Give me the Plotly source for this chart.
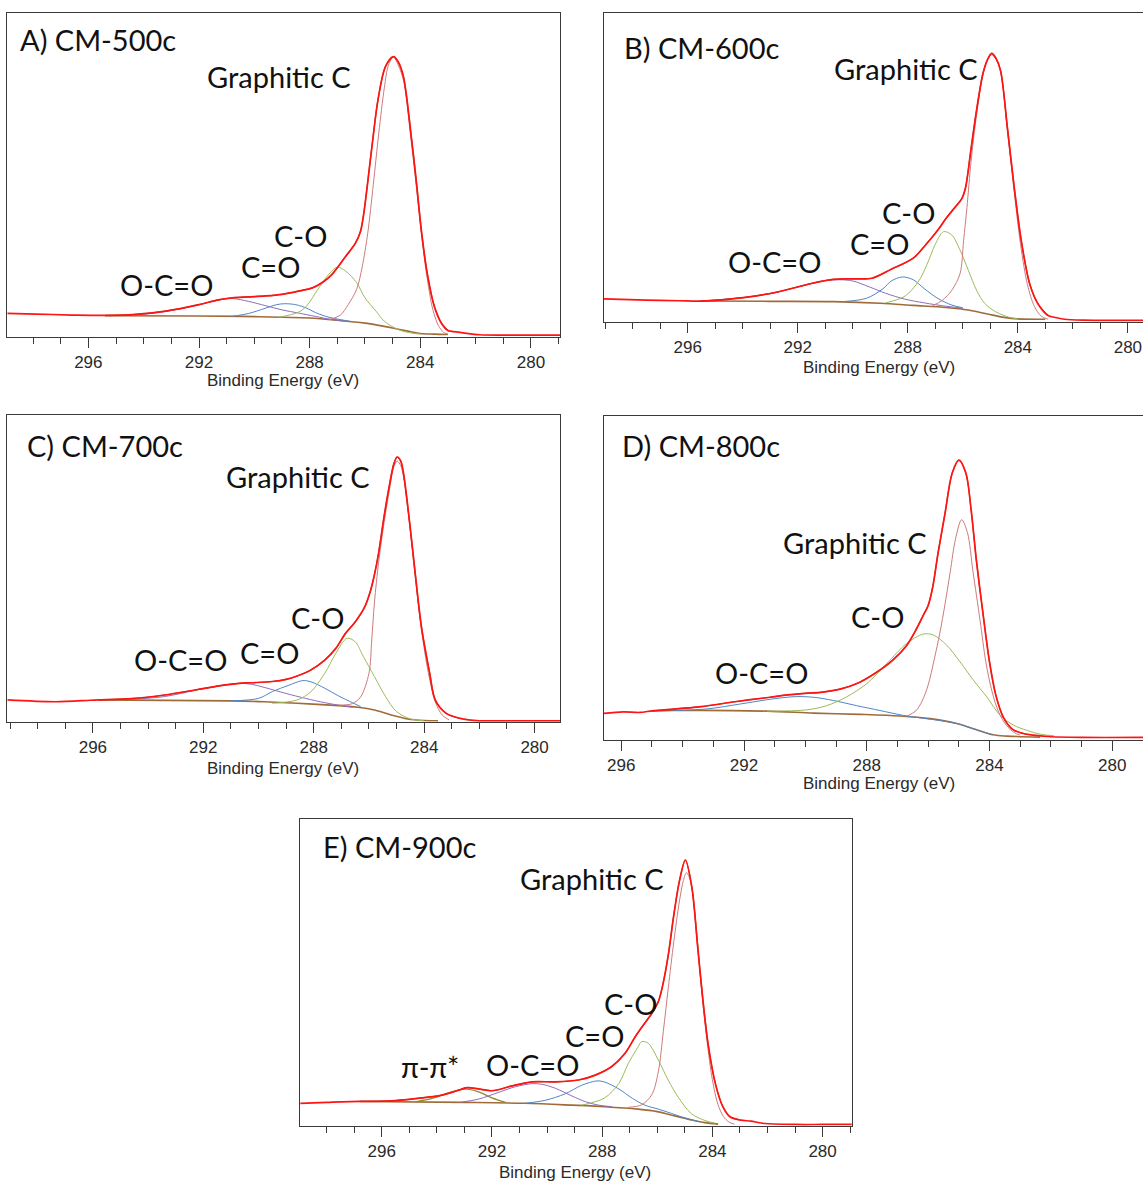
import plotly.graph_objects as go

# ---------------- DATA (binding energy in eV, intensity in % of panel height) ----------------
# Panel A  CM-500c
bgA_x = [295.4, 292.0, 290.5, 289.0, 288.0, 287.0, 286.0, 285.5, 285.0, 284.5, 284.0, 283.5, 283.0]
bgA_y = [6.5, 6.4, 6.3, 6.0, 5.8, 5.1, 4.2, 3.5, 2.7, 1.8, 1.0, 0.8, 0.7]
ocoA_x = [294.4, 293.2, 292.0, 291.3, 290.8, 290.2, 289.6, 289.0, 288.4, 287.8, 287.2, 286.6]
ocoA_y = [6.6, 7.8, 9.9, 11.3, 11.8, 10.9, 9.6, 8.3, 7.3, 6.3, 5.3, 4.7]
coA_x = [290.8, 290.2, 289.6, 289.2, 288.9, 288.5, 288.1, 287.8, 287.3, 286.9, 286.5]
coA_y = [6.3, 7.2, 8.8, 9.9, 10.2, 9.9, 8.8, 7.5, 6.0, 5.3, 4.7]
cOA_x = [289.1, 288.4, 288.1, 287.7, 287.3, 287.0, 286.7, 286.3, 286.0, 285.6, 285.3, 284.8, 284.3, 284.0]
cOA_y = [6.0, 7.6, 9.6, 14.7, 19.4, 21.5, 20.3, 16.7, 12.0, 7.9, 4.8, 2.2, 1.1, 0.8]
grA_x = [287.3, 286.9, 286.6, 286.3, 286.1, 285.9, 285.7, 285.5, 285.3, 285.15, 284.97, 284.8, 284.6,
         284.35, 284.15, 283.95, 283.75, 283.55, 283.35, 283.15, 283.0]
grA_y = [5.3, 6.6, 10.0, 14.7, 21.6, 32.0, 47.0, 63.0, 77.0, 84.0, 86.5, 84.0, 79.0,
         62.0, 47.0, 31.0, 18.0, 8.5, 3.5, 1.3, 0.8]
envA_x = [295.4, 294.4, 293.2, 292.0, 291.3, 290.8, 290.2, 289.6, 289.0, 288.4, 287.9, 287.5, 287.2,
          286.7, 286.34, 286.16, 286.04, 285.92, 285.72, 285.53, 285.26, 284.97, 284.8, 284.61,
          284.34, 284.15, 283.95, 283.75, 283.49, 283.23, 283.0]
envA_y = [6.6, 6.8, 7.9, 9.9, 11.4, 12.0, 12.3, 12.6, 13.1, 14.1, 15.1, 17.0, 19.2,
          24.8, 29.0, 32.6, 38.3, 46.4, 60.8, 73.2, 83.5, 86.6, 85.0, 80.4,
          62.9, 48.5, 32.0, 19.6, 9.3, 4.1, 1.9]
rawA_left_x = [298.93, 297.9, 296.6, 295.9]
rawA_left_y = [7.2, 7.0, 6.7, 6.6]
rawA_right_x = [282.9, 282.4, 281.85, 281.0, 280.0, 278.95]
rawA_right_y = [1.7, 1.1, 0.6, 0.5, 0.5, 0.5]

# Panel B  CM-600c
bgB_x = [295.5, 293.0, 290.7, 289.0, 287.8, 286.6, 285.8, 285.1, 284.5, 284.0, 283.0]
bgB_y = [6.7, 6.6, 6.5, 6.0, 5.3, 4.6, 3.8, 2.5, 1.4, 0.9, 0.8]
ocoB_x = [295.6, 293.9, 292.7, 291.7, 291.0, 290.5, 290.0, 289.4, 288.8, 288.1, 287.4, 286.6, 286.0]
ocoB_y = [6.7, 7.9, 9.7, 11.9, 13.3, 13.6, 13.2, 11.3, 9.2, 7.3, 6.1, 5.0, 4.4]
coB_x = [290.4, 289.5, 288.9, 288.6, 288.2, 287.8, 287.4, 286.9, 286.4, 286.0]
coB_y = [6.5, 7.6, 10.7, 13.2, 14.5, 13.6, 10.7, 7.5, 5.4, 4.5]
cOB_x = [288.8, 288.1, 287.6, 287.3, 287.0, 286.7, 286.4, 286.1, 285.8, 285.5, 285.2, 284.8, 284.3, 284.0]
cOB_y = [6.1, 8.3, 13.2, 18.6, 25.1, 29.2, 28.1, 23.2, 16.7, 10.2, 5.9, 3.2, 1.4, 0.9]
grB_x = [287.1, 286.75, 286.4, 286.1, 285.97, 285.85, 285.7, 285.5, 285.27, 285.1, 284.95, 284.78,
         284.6, 284.38, 284.13, 283.9, 283.65, 283.4, 283.15, 282.9]
grB_y = [5.2, 6.9, 10.2, 15.6, 26.4, 37.0, 52.0, 67.0, 80.0, 85.0, 86.5, 85.0,
         80.0, 62.0, 42.0, 25.0, 12.0, 5.0, 1.8, 0.8]
envB_x = [295.5, 293.9, 292.7, 291.5, 290.7, 290.0, 289.3, 288.6, 287.8, 287.4, 286.9, 286.6, 286.3,
          286.03, 285.9, 285.71, 285.52, 285.27, 285.1, 284.95, 284.8, 284.63, 284.38, 284.13,
          283.87, 283.56, 283.24, 282.9]
envB_y = [6.7, 7.9, 9.7, 12.4, 13.7, 13.9, 14.1, 17.0, 20.6, 24.4, 29.8, 33.6, 36.9,
          40.0, 43.5, 55.4, 67.4, 80.4, 85.0, 87.0, 85.5, 81.5, 63.0, 43.5,
          26.0, 12.0, 5.4, 2.0]
rawB_left_x = [299.05, 297.5, 296.3]
rawB_left_y = [7.4, 7.0, 6.8]
rawB_right_x = [282.6, 282.3, 281.6, 280.5, 279.45]
rawB_right_y = [1.3, 0.8, 0.5, 0.4, 0.4]

# Panel C  CM-700c
bgC_x = [295.8, 291.0, 289.8, 288.6, 287.4, 286.4, 285.8, 285.2, 284.6, 284.0, 283.5]
bgC_y = [7.1, 6.8, 6.5, 6.0, 5.4, 4.7, 3.8, 2.2, 0.9, 0.4, 0.3]
ocoC_x = [294.6, 293.4, 292.2, 291.2, 290.7, 290.25, 289.8, 289.0, 288.3, 287.6, 287.1, 286.6]
ocoC_y = [7.3, 8.2, 10.4, 12.0, 12.5, 12.2, 11.2, 9.2, 7.6, 6.2, 5.4, 4.7]
coC_x = [291.0, 290.0, 289.5, 288.9, 288.4, 288.1, 287.6, 287.1, 286.6, 286.3]
coC_y = [6.8, 7.6, 9.8, 11.9, 13.4, 13.0, 10.9, 8.4, 6.2, 4.9]
cOC_x = [289.5, 288.6, 288.1, 287.6, 287.2, 286.8, 286.5, 286.2, 285.8, 285.4, 285.0, 284.5, 284.0]
cOC_y = [6.0, 7.1, 9.8, 15.8, 22.3, 27.2, 26.1, 21.2, 14.7, 8.2, 3.3, 0.9, 0.3]
grC_x = [287.1, 286.6, 286.3, 286.0, 285.9, 285.8, 285.65, 285.45, 285.25, 285.1, 284.98, 284.85,
         284.75, 284.55, 284.35, 284.1, 283.85, 283.6, 283.35, 283.1]
grC_y = [5.4, 5.9, 8.1, 15.8, 26.6, 39.0, 52.0, 65.0, 76.0, 83.0, 85.0, 83.5,
         80.0, 66.0, 49.5, 30.0, 16.0, 6.5, 2.2, 0.6]
envC_x = [295.8, 294.6, 293.4, 292.2, 291.2, 290.7, 290.25, 289.5, 289.0, 288.6, 288.1, 287.6, 287.2,
          286.85, 286.5, 286.15, 285.95, 285.8, 285.65, 285.45, 285.25, 285.1, 284.98, 284.85,
          284.75, 284.55, 284.35, 284.1, 283.8, 283.6, 283.2, 282.7]
envC_y = [7.1, 7.5, 8.7, 10.5, 12.0, 12.5, 12.7, 13.1, 13.8, 14.9, 16.9, 20.1, 23.9,
          28.8, 32.5, 37.5, 42.5, 48.0, 55.0, 67.0, 77.5, 84.0, 86.3, 85.0,
          81.0, 66.8, 50.5, 31.0, 15.8, 7.1, 2.7, 1.1]
rawC_left_x = [299.1, 297.35, 296.1]
rawC_left_y = [7.1, 6.5, 7.0]
rawC_right_x = [282.0, 281.0, 279.08]
rawC_right_y = [0.3, 0.3, 0.3]

# Panel D  CM-800c
bgD_x = [295.0, 294.3, 291.26, 289.74, 288.22, 286.92, 285.94, 285.07, 284.53, 283.88, 283.44, 282.35]
bgD_y = [8.9, 9.1, 8.9, 8.3, 7.9, 7.4, 6.6, 5.1, 3.5, 1.6, 1.2, 0.9]
ocoD_x = [294.3, 293.2, 292.13, 291.05, 290.3, 289.74, 289.09, 288.33, 287.57, 286.81, 286.16,
          285.61, 285.07, 284.53, 283.9]
ocoD_y = [9.1, 9.6, 11.1, 12.7, 13.4, 13.2, 12.2, 10.6, 9.1, 7.6, 6.7, 6.0, 5.1, 3.5, 1.6]
cOD_x = [291.26, 289.96, 289.31, 288.66, 288.0, 287.35, 286.7, 286.16, 285.83, 285.4, 284.96, 284.53,
         284.09, 283.66, 283.22, 282.79, 282.35, 281.9]
cOD_y = [8.9, 9.3, 10.6, 13.3, 17.4, 23.6, 29.8, 32.7, 32.4, 29.3, 24.1, 18.5,
         13.3, 7.7, 4.6, 3.0, 1.8, 1.3]
grD_x = [286.7, 286.4, 286.2, 286.0, 285.8, 285.62, 285.45, 285.28, 285.11, 284.91, 284.72, 284.54,
         284.31, 284.12, 283.92, 283.7, 283.45, 283.2, 283.0]
grD_y = [7.3, 9.0, 12.0, 17.0, 25.0, 33.0, 42.0, 52.0, 62.0, 68.0, 64.0, 52.0,
         37.0, 24.0, 15.0, 8.5, 4.5, 2.3, 1.5]
envD_x = [295.0, 294.6, 293.4, 292.3, 291.15, 290.58, 290.0, 289.44, 288.87, 288.3, 287.73, 287.16,
          286.7, 286.37, 286.16, 286.0, 285.85, 285.68, 285.45, 285.22, 285.0, 284.77, 284.6,
          284.43, 284.2, 284.0, 283.8, 283.55, 283.25, 282.9, 282.5]
envD_y = [9.0, 9.3, 10.3, 11.8, 13.2, 13.9, 14.4, 14.8, 15.7, 17.5, 20.6, 24.6,
          29.2, 34.5, 38.5, 41.5, 47.3, 57.6, 70.0, 82.3, 86.4, 82.3, 71.0,
          55.5, 38.0, 24.0, 14.0, 7.0, 3.3, 2.0, 1.4]
rawD_left_x = [296.57, 295.94, 295.4]
rawD_left_y = [8.2, 8.7, 8.5]
rawD_right_x = [282.0, 281.0, 279.0]
rawD_right_y = [1.0, 0.8, 0.8]

# Panel E  CM-900c
bgE_x = [296.8, 292.96, 290.8, 289.1, 287.9, 286.7, 286.0, 285.5, 284.76, 284.27, 283.79]
bgE_y = [7.9, 7.6, 7.3, 6.7, 6.2, 5.4, 4.6, 3.5, 1.9, 1.0, 0.5]
pipE_x = [294.77, 294.17, 293.68, 293.2, 292.9, 292.48, 292.0, 291.5]
pipE_y = [7.8, 8.9, 10.4, 11.7, 11.9, 11.0, 9.1, 7.6]
ocoE_x = [293.1, 292.48, 291.75, 291.15, 290.55, 290.18, 289.7, 289.1, 288.6, 288.13, 287.65]
ocoE_y = [7.7, 8.7, 10.9, 12.7, 13.7, 13.5, 12.2, 9.7, 7.8, 6.7, 6.2]
coE_x = [290.8, 290.06, 289.34, 288.74, 288.19, 287.9, 287.4, 286.9, 286.45, 285.96, 285.48, 285.0, 284.5]
coE_y = [7.3, 8.3, 10.4, 13.2, 14.6, 14.2, 12.0, 8.9, 6.7, 5.4, 4.0, 2.5, 1.4]
cOE_x = [288.74, 288.38, 287.9, 287.4, 287.05, 286.69, 286.57, 286.33, 285.96, 285.6, 285.24, 284.76,
         284.27, 283.9]
cOE_y = [6.7, 7.5, 9.1, 13.7, 20.3, 25.8, 27.4, 26.9, 21.4, 14.8, 9.3, 3.9, 1.7, 0.8]
grE_x = [287.05, 286.57, 286.2, 285.96, 285.78, 285.6, 285.4, 285.2, 285.05, 284.94, 284.8, 284.6,
         284.4, 284.2, 284.0, 283.8, 283.6, 283.4, 283.2]
grE_y = [6.0, 6.8, 10.1, 17.7, 30.8, 45.0, 60.0, 73.0, 80.0, 82.5, 80.0, 66.0,
         45.0, 28.0, 15.0, 7.0, 3.0, 1.2, 0.5]
envE_x = [296.8, 295.5, 294.7, 293.9, 293.3, 292.9, 292.5, 292.0, 291.3, 290.55, 289.7, 288.86, 288.25,
          287.65, 287.17, 286.8, 286.45, 286.2, 285.96, 285.8, 285.6, 285.4, 285.2, 284.98, 284.74,
          284.54, 284.35, 284.15, 283.88, 283.62, 283.36, 282.97]
envE_y = [7.9, 8.2, 8.9, 9.8, 11.3, 12.4, 12.0, 11.4, 12.9, 14.3, 14.3, 14.9, 16.5,
          19.3, 23.6, 29.0, 33.5, 36.6, 40.5, 45.9, 55.7, 68.7, 79.6, 86.6, 77.4,
          58.9, 41.5, 26.3, 13.3, 6.2, 2.9, 1.8]
rawE_left_x = [298.96, 298.0, 297.5]
rawE_left_y = [7.3, 7.6, 7.8]
rawE_right_x = [282.6, 282.18, 281.0, 280.0, 278.94]
rawE_right_y = [1.5, 0.8, 0.4, 0.4, 0.4]

# ---------------- FIGURE ----------------
W, H = 1143, 1183
def px_x(p): return p / W
def px_y(p): return 1 - p / H

C_RAW = "#ff1414"
C_ENV = "#9a5b2a"
C_BG = "#a06b3a"
C_GR = "#cd7b7b"
C_CO = "#9bbb59"
C_CdO = "#4f86c6"
C_OCO = "#8e6cbf"
C_PI = "#8c8c2c"

panels = [
    dict(box=(7.3, 560.0, 13.3, 336.7), xr=(298.93, 278.95), mirror=True,
         series=[(bgA_x, bgA_y, C_BG, 1.6), (ocoA_x, ocoA_y, C_OCO, 1.0), (coA_x, coA_y, C_CdO, 1.0),
                 (cOA_x, cOA_y, C_CO, 1.0), (grA_x, grA_y, C_GR, 1.0), (envA_x, envA_y, C_ENV, 1.2),
                 (rawA_left_x + envA_x + rawA_right_x, rawA_left_y + envA_y + rawA_right_y, C_RAW, 1.7)]),
    dict(box=(603.8, 1143.0, 13.3, 321.7), xr=(299.05, 279.45), mirror=False,
         series=[(bgB_x, bgB_y, C_BG, 1.6), (ocoB_x, ocoB_y, C_OCO, 1.0), (coB_x, coB_y, C_CdO, 1.0),
                 (cOB_x, cOB_y, C_CO, 1.0), (grB_x, grB_y, C_GR, 1.0), (envB_x, envB_y, C_ENV, 1.2),
                 (rawB_left_x + envB_x + rawB_right_x, rawB_left_y + envB_y + rawB_right_y, C_RAW, 1.7)]),
    dict(box=(7.3, 560.0, 415.0, 721.7), xr=(299.1, 279.08), mirror=True,
         series=[(bgC_x, bgC_y, C_BG, 1.6), (ocoC_x, ocoC_y, C_OCO, 1.0), (coC_x, coC_y, C_CdO, 1.0),
                 (cOC_x, cOC_y, C_CO, 1.0), (grC_x, grC_y, C_GR, 1.0), (envC_x, envC_y, C_ENV, 1.2),
                 (rawC_left_x + envC_x + rawC_right_x, rawC_left_y + envC_y + rawC_right_y, C_RAW, 1.7)]),
    dict(box=(603.8, 1143.0, 416.0, 740.0), xr=(296.57, 279.0), mirror=False,
         series=[(bgD_x, bgD_y, C_BG, 1.6), (ocoD_x, ocoD_y, C_CdO, 1.0),
                 (cOD_x, cOD_y, C_CO, 1.0), (grD_x, grD_y, C_GR, 1.0), (envD_x, envD_y, C_ENV, 1.2),
                 (rawD_left_x + envD_x + rawD_right_x, rawD_left_y + envD_y + rawD_right_y, C_RAW, 1.7)]),
    dict(box=(300.2, 851.8, 819.0, 1125.7), xr=(298.96, 278.94), mirror=True,
         series=[(bgE_x, bgE_y, C_BG, 1.6), (pipE_x, pipE_y, C_PI, 1.3), (ocoE_x, ocoE_y, C_OCO, 1.0),
                 (coE_x, coE_y, C_CdO, 1.0), (cOE_x, cOE_y, C_CO, 1.0), (grE_x, grE_y, C_GR, 1.0),
                 (envE_x, envE_y, C_ENV, 1.2),
                 (rawE_left_x + envE_x + rawE_right_x, rawE_left_y + envE_y + rawE_right_y, C_RAW, 1.7)]),
]

fig = go.Figure()
layout = dict(width=W, height=H, autosize=False, margin=dict(l=0, r=0, t=0, b=0),
              paper_bgcolor="white", plot_bgcolor="white", showlegend=False)

AX_COL = "#3a3a3a"
for i, p in enumerate(panels, start=1):
    xa = "xaxis" if i == 1 else f"xaxis{i}"
    ya = "yaxis" if i == 1 else f"yaxis{i}"
    xref = "x" if i == 1 else f"x{i}"
    yref = "y" if i == 1 else f"y{i}"
    l, r, t, b = p["box"]
    layout[xa] = dict(domain=[px_x(l), min(px_x(r), 1.0)], anchor=yref, range=list(p["xr"]),
                      showline=True, linecolor=AX_COL, linewidth=1, mirror=True,
                      tickmode="linear", tick0=280, dtick=4,
                      ticks="outside", ticklen=10, tickcolor=AX_COL, tickwidth=1,
                      tickfont=dict(family="Liberation Sans, Arial, sans-serif", size=17, color="#2a2a2a"),
                      minor=dict(dtick=1, tick0=280, ticks="outside", ticklen=6, tickcolor=AX_COL, tickwidth=1),
                      showgrid=False, zeroline=False, fixedrange=True)
    layout[ya] = dict(domain=[px_y(b), px_y(t)], anchor=xref, range=[0, 100],
                      showline=True, linecolor=AX_COL, linewidth=1, mirror=p["mirror"],
                      ticks="", showticklabels=False, showgrid=False, zeroline=False, fixedrange=True)
    for sx, sy, col, w in p["series"]:
        fig.add_trace(go.Scatter(x=sx, y=sy, mode="lines", xaxis=xref, yaxis=yref,
                                 line=dict(color=col, width=w, shape="spline", smoothing=0.9),
                                 hoverinfo="skip", showlegend=False))

LAB_FONT = dict(family="Lato, 'Open Sans', sans-serif", size=29, color="#111111")
AX_FONT = dict(family="Liberation Sans, Arial, sans-serif", size=17, color="#2a2a2a")

titles = [("A) CM-500c", 17.5, 40), ("B) CM-600c", 622, 47), ("C) CM-700c", 25, 445),
          ("D) CM-800c", 620, 446), ("E) CM-900c", 321, 846)]
labels = [("Graphitic C", 279, 76), ("C-O", 300, 235), ("C=O", 270, 266), ("O-C=O", 166, 284),
          ("Graphitic C", 906, 69), ("C-O", 908, 212), ("C=O", 879, 244), ("O-C=O", 774, 262),
          ("Graphitic C", 298, 477), ("C-O", 317, 617), ("C=O", 269, 652), ("O-C=O", 180, 659),
          ("Graphitic C", 855, 542), ("C-O", 877, 616), ("O-C=O", 761, 672),
          ("Graphitic C", 592, 878), ("C-O", 630, 1003), ("C=O", 594, 1035), ("O-C=O", 532, 1064),
          ("π-π*", 430, 1066)]
axis_titles = [(283, 380), (879, 367), (283, 768), (879, 783), (575, 1172)]

ann = []
for txt, x, y in titles:
    ann.append(dict(text=txt, x=px_x(x), y=px_y(y), xref="paper", yref="paper", xanchor="left",
                    yanchor="middle", showarrow=False, font=LAB_FONT))
for txt, x, y in labels:
    ann.append(dict(text=txt, x=px_x(x), y=px_y(y), xref="paper", yref="paper", xanchor="center",
                    yanchor="middle", showarrow=False, font=LAB_FONT))
for x, y in axis_titles:
    ann.append(dict(text="Binding Energy (eV)", x=px_x(x), y=px_y(y), xref="paper", yref="paper",
                    xanchor="center", yanchor="middle", showarrow=False, font=AX_FONT))
layout["annotations"] = ann
fig.update_layout(**layout)
fig.write_html("out.html")
